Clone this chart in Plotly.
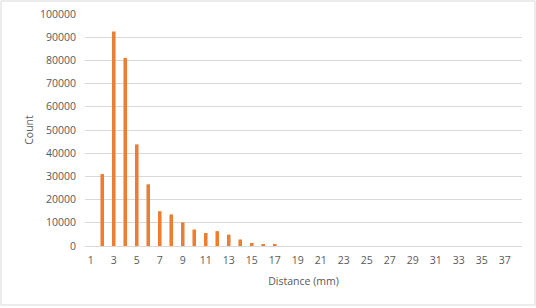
import plotly.graph_objects as go

distance_mm = list(range(1, 39))
counts = [0, 31000, 92500, 81000, 43800, 26600, 15000, 13600, 10200, 7100,
          5600, 6400, 4900, 2800, 1300, 600, 450] + [0] * 21
x_tick_vals = list(range(1, 38, 2))
y_tick_vals = list(range(0, 100001, 10000))

W, H = 536, 308
L, R, T, B = 85, 14, 14, 62

fig = go.Figure()
fig.add_trace(go.Bar(x=distance_mm, y=counts, marker_color="#ED7D31",
                     marker_line_width=0, width=0.31))

pw, ph = W - L - R, H - T - B
fig.update_layout(
    width=W, height=H,
    margin=dict(l=L, r=R, t=T, b=B, autoexpand=False),
    paper_bgcolor="white", plot_bgcolor="white",
    font=dict(family="Open Sans, Liberation Sans, sans-serif", size=10.5, color="#595959"),
    showlegend=False,
    xaxis=dict(range=[0.5, 38.5], tickvals=x_tick_vals, ticktext=[str(v) for v in x_tick_vals],
               showgrid=False, zeroline=False, showline=False, ticks="", automargin=False,
               ticklabelstandoff=6,
               title=dict(text="Distance (mm)", standoff=12, font=dict(size=10.5, color="#595959")),
               tickfont=dict(size=10.5, color="#595959")),
    yaxis=dict(range=[0, 100000], tickvals=y_tick_vals, ticktext=[str(v) for v in y_tick_vals],
               showgrid=True, gridcolor="#D9D9D9", gridwidth=1, zeroline=True,
               zerolinecolor="#D9D9D9", zerolinewidth=1, ticks="", automargin=False,
               ticklabelstandoff=8,
               title=dict(text="Count", standoff=4, font=dict(size=10.5, color="#595959")),
               tickfont=dict(size=10.5, color="#595959")),
    shapes=[dict(type="rect", xref="paper", yref="paper",
                 x0=(1 - L) / pw, x1=(535 - L) / pw,
                 y0=-(305 - (H - B)) / ph, y1=1 + (T - 1) / ph,
                 line=dict(color="#D9D9D9", width=1), fillcolor="rgba(0,0,0,0)", layer="below")],
)

fig.write_html("out.html", config={"displayModeBar": False},
               post_script="document.body.style.margin='0';document.body.style.overflow='hidden';")
